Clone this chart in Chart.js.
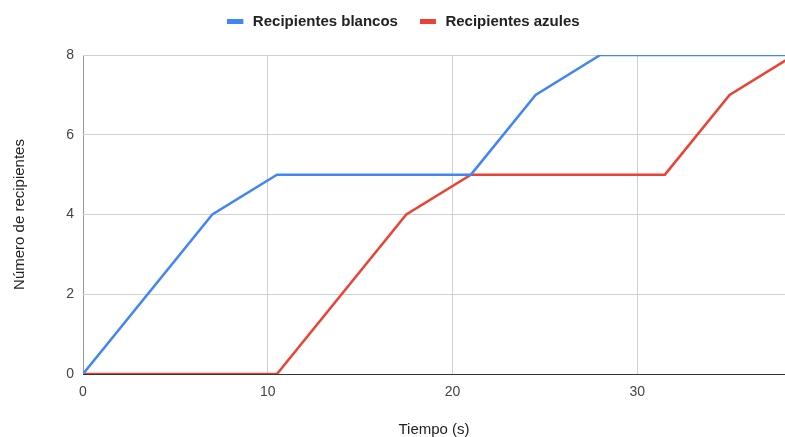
<!DOCTYPE html>
<html>
<head>
<meta charset="utf-8">
<script src="https://cdn.jsdelivr.net/npm/chart.js@4/dist/chart.umd.min.js"></script>
<style>
  html, body { margin: 0; padding: 0; background: #fff; }
  #wrap { width: 785px; height: 437px; }
</style>
</head>
<body>
<div id="wrap"><canvas id="c" width="785" height="437"></canvas></div>
<script>
// Time (s) and container counts for each series
const timesWhite = [0, 7, 10.5, 21, 24.5, 28, 38];
const countsWhite = [0, 4, 5, 5, 7, 8, 8];
const timesBlue = [0, 10.5, 17.5, 21, 31.5, 35, 38.5];
const countsBlue = [0, 0, 4, 5, 5, 7, 8];

const seriesNames = ['Recipientes blancos', 'Recipientes azules'];
const seriesColors = ['#4285F4', '#EA4335'];
const xTicks = [0, 10, 20, 30];
const yTicks = [0, 2, 4, 6, 8];

const toPoints = (xs, ys) => xs.map((x, i) => ({ x: x, y: ys[i] }));

const FONT = '"Liberation Sans", Arial, sans-serif';

// Short flat swatch for the legend, with a little trailing space before the label
function swatch(color) {
  const c = document.createElement('canvas');
  c.width = 18;
  c.height = 5;
  const g = c.getContext('2d');
  g.fillStyle = color;
  g.fillRect(0, 0, 16, 5);
  return c;
}

// Empty layout box that keeps some room between the legend and the plot
const legendGap = {
  id: 'legendGap',
  beforeInit(chart, args, opts) {
    const box = {
      position: 'top',
      weight: 500,
      fullSize: true,
      options: {},
      width: 0,
      height: 0,
      left: 0, top: 0, right: 0, bottom: 0,
      isHorizontal() { return true; },
      update(maxWidth) { this.width = maxWidth; this.height = opts.size || 0; return this; },
      draw() {}
    };
    Chart.layouts.addBox(chart, box);
  },
  afterLayout(chart, args, opts) {
    // nudge the legend row into place
    const lg = chart.legend;
    if (!lg) return;
    const dx = opts.shiftX || 0, dy = opts.shiftY || 0;
    lg.left += dx; lg.right += dx;
    lg.top += dy; lg.bottom += dy;
  }
};

new Chart(document.getElementById('c'), {
  type: 'line',
  data: {
    datasets: [
      {
        label: seriesNames[0],
        data: toPoints(timesWhite, countsWhite),
        borderColor: seriesColors[0],
        backgroundColor: seriesColors[0],
        pointStyle: swatch(seriesColors[0]),
        borderWidth: 2.5,
        pointRadius: 0,
        tension: 0
      },
      {
        label: seriesNames[1],
        data: toPoints(timesBlue, countsBlue),
        borderColor: seriesColors[1],
        backgroundColor: seriesColors[1],
        pointStyle: swatch(seriesColors[1]),
        borderWidth: 2.5,
        pointRadius: 0,
        tension: 0
      }
    ]
  },
  plugins: [legendGap],
  options: {
    responsive: false,
    animation: false,
    layout: { padding: { top: 2, right: 0, left: 0, bottom: 0 } },
    plugins: {
      tooltip: { enabled: false },
      legendGap: { size: 6, shiftX: 11, shiftY: -10 },
      legend: {
        position: 'top',
        align: 'center',
        labels: {
          usePointStyle: true,
          pointStyleWidth: 18,
          boxHeight: 5,
          padding: 22,
          color: '#222',
          font: { family: FONT, size: 15, weight: 'bold' }
        }
      }
    },
    scales: {
      x: {
        type: 'linear',
        min: 0,
        max: 38,
        afterFit: (s) => { s.height = 63; },
        afterBuildTicks: (s) => { s.ticks = xTicks.map(v => ({ value: v })); },
        border: { display: false },
        grid: {
          color: (ctx) => (ctx.tick && ctx.tick.value === 0 ? '#999' : '#d0d0d0'),
          lineWidth: 1,
          drawTicks: false
        },
        ticks: {
          color: '#444',
          padding: 10,
          font: { family: FONT, size: 14 }
        },
        title: {
          display: true,
          text: 'Tiempo (s)',
          color: '#222',
          padding: { top: 18, bottom: -2 },
          font: { family: FONT, size: 15 }
        }
      },
      y: {
        min: 0,
        max: 8,
        afterFit: (s) => { s.width = 83; },
        afterBuildTicks: (s) => { s.ticks = yTicks.map(v => ({ value: v })); },
        border: { display: false },
        grid: {
          color: (ctx) => (ctx.tick && ctx.tick.value === 0 ? '#333' : '#d0d0d0'),
          lineWidth: 1,
          drawTicks: false
        },
        ticks: {
          color: '#444',
          padding: 9,
          font: { family: FONT, size: 14 }
        },
        title: {
          display: true,
          text: 'Número de recipientes',
          color: '#222',
          padding: { top: 11, bottom: 0 },
          font: { family: FONT, size: 15 }
        }
      }
    }
  }
});
</script>
</body>
</html>
